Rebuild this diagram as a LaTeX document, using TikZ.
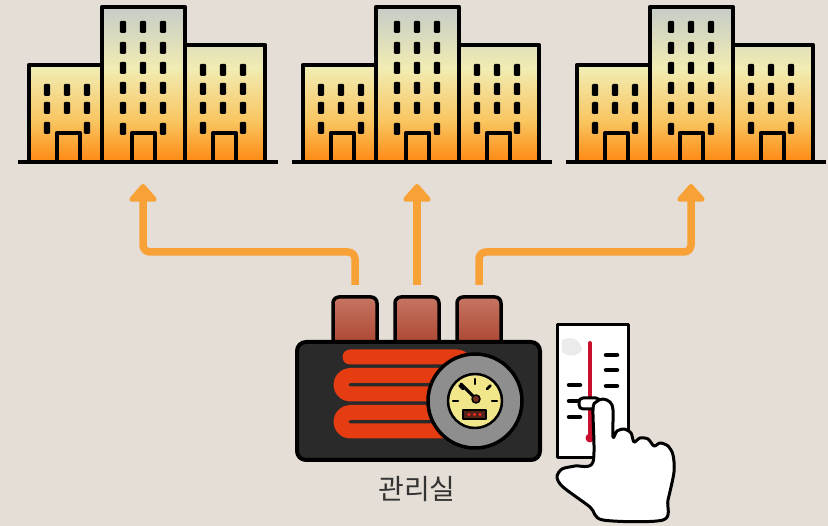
\documentclass[tikz,border=0pt]{standalone}
\usepackage{xcolor}
\usepackage{tikz}
\usepackage{fontspec}
\newfontfamily\kr{Noto Sans CJK KR}
\usetikzlibrary{arrows.meta}

\definecolor{paper}{HTML}{E5DED6}
\definecolor{flowOrange}{HTML}{F7A136}
\definecolor{twGrey}{HTML}{C6CCC8}
\definecolor{twCream}{HTML}{F1ECB2}
\definecolor{twAmber}{HTML}{F9C560}
\definecolor{twOrange}{HTML}{FF8A14}
\definecolor{pipeTop}{HTML}{C77563}
\definecolor{pipeBot}{HTML}{A9452F}
\definecolor{boiler}{HTML}{2A2A2A}
\definecolor{coil}{HTML}{E63C12}
\definecolor{dialGrey}{HTML}{8E8E8E}
\definecolor{dial}{HTML}{F2E68A}
\definecolor{mercury}{HTML}{C8102E}
\definecolor{labelGrey}{HTML}{333333}

\pgfdeclareverticalshading{towershade}{100bp}{color(0bp)=(twOrange); color(25bp)=(twOrange); color(38bp)=(twAmber); color(55bp)=(twCream); color(75bp)=(twGrey); color(100bp)=(twGrey)}

\begin{document}
\begin{tikzpicture}[x=1pt, y=-1pt, line join=round,
    outline/.style={draw=black, line width=4.5},
    win/.style={fill=black, rounded corners=1.2},
    pipe/.style={top color=pipeTop, bottom color=pipeBot, draw=black, line width=3.5, rounded corners=6},
    flow/.style={draw=flowOrange, line width=7.5, -{Triangle[round, length=19pt, width=32pt]}},
    tick/.style={line width=4.5, line cap=round}]

  \useasboundingbox (0,0) rectangle (828,526);
  \fill[paper] (0,0) rectangle (828,526);

  % three blocks of towers
  \foreach \dx/\n in {0/1, 274/2, 548/3} {
    \begin{scope}[xshift=\dx]
      \begin{scope}
        \clip (29,65) rectangle (102,161) (102,7) rectangle (185,161) (185,45) rectangle (265,161);
        \shade[shading=towershade] (20,7) rectangle (270,161);
      \end{scope}
      \draw[outline] (29,161) |- (102,65);
      \draw[outline] (102,161) |- (185,7) -- (185,161);
      \draw[outline] (185,45) -| (265,161);
      % windows
      \foreach \wx in {47,67,87} \foreach \wy in {90,108}
        \fill[win] (\wx,\wy) ++(-3.2,-6) rectangle ++(6.4,12);
      \foreach \wx in {47,87}
        \fill[win] (\wx,128) ++(-3.2,-6) rectangle ++(6.4,12);
      \foreach \wx in {123,143,163} \foreach \wy in {27,48,68,88,108}
        \fill[win] (\wx,\wy) ++(-3.2,-6) rectangle ++(6.4,12);
      \foreach \wx in {123,163}
        \fill[win] (\wx,129) ++(-3.2,-6) rectangle ++(6.4,12);
      \foreach \wx in {203,223,243} \foreach \wy in {70,89,108}
        \fill[win] (\wx,\wy) ++(-3.2,-6) rectangle ++(6.4,12);
      \foreach \wx in {203,243}
        \fill[win] (\wx,128) ++(-3.2,-6) rectangle ++(6.4,12);
      % doors
      \foreach \door in {57,132,213}
        \draw[outline] (\door,161) |- (\door+23,133) -- (\door+23,161);
      \draw[line width=4] (18,162) -- (278,162);
      \coordinate (block\n) at (143,184);
    \end{scope}
  }

  % supply lines
  \coordinate (out1) at (355,285);
  \coordinate (out2) at (417,285);
  \coordinate (out3) at (479,285);
  \coordinate (bend) at (0,252);
  \draw[flow] (out1) [rounded corners=7] -- (out1 |- bend) -- (block1 |- bend) [sharp corners] -- (block1);
  \draw[flow] (out2) -- (block2);
  \draw[flow] (out3) [rounded corners=7] -- (out3 |- bend) -- (block3 |- bend) [sharp corners] -- (block3);

  % boiler
  \foreach \px in {333,395,457}
    \shade[pipe] (\px,297) rectangle ++(44,50);
  \draw[line width=4, fill=boiler, rounded corners=9] (297,342) rectangle (540,460);
  \draw[draw=coil, line width=15, rounded corners=9.25, line cap=round]
    (350,357) -- (466,357) -- (466,375.5) -- (341,375.5) -- (341,394) -- (466,394)
    -- (466,412.5) -- (341,412.5) -- (341,431) -- (470,431);

  % gauge
  \draw[fill=dialGrey, line width=3.5] (475,401) circle (47);
  \draw[fill=dial, line width=2.5] (475,401) circle (27);
  \foreach \a in {0,-45,-90,-135,180}
    \draw[line width=2.5, line cap=round] (475,401) ++(\a:17) -- ++(\a:5);
  \draw[line width=3, line cap=round] (476,399) -- (461,384);
  \draw[fill=pipeBot!70!black, line width=1.5] (476,399) circle (4);
  \draw[fill=pipeBot!50!black, line width=1.5] (463,410) rectangle (486,419);
  \foreach \dot in {469,474.5,480}
    \fill[red!85!white] (\dot,414.5) circle (1.6);

  % thermometer
  \draw[fill=white, line width=3] (557,325) rectangle (628,458);
  \fill[black!8] (562,340) .. controls (570,336) and (580,338) .. (582,350) .. controls (576,358) and (566,356) .. (562,352) -- cycle;
  \draw[mercury, line width=4, line cap=round] (590,343) -- (590,436);
  \fill[mercury] (590,438) circle (4.5);
  \foreach \ty in {355,370,386}
    \draw[tick] (606,\ty) -- (617,\ty);
  \foreach \ty in {385,401,417}
    \draw[tick] (569,\ty) -- (580,\ty);

  % hand
  \draw[fill=white, line width=3, rounded corners=4] (579,398) rectangle (600,409);
  \draw[fill=white, line width=3] plot[smooth cycle, tension=0.5] coordinates {
    (593,462) (593,410) (596,402) (603,399) (610,402) (613,410) (613,437)
    (617,431) (624,429) (631,433) (634,442) (640,438) (648,439) (654,446)
    (660,443) (668,446) (673,455) (674,472) (668,500) (663,520) (603,520)
    (590,507) (563,487) (557,477) (562,469) (575,466)};

  \node[font=\kr\fontsize{28}{32}\selectfont, text=labelGrey] (room) at (417,489) {관리실};
\end{tikzpicture}
\end{document}
